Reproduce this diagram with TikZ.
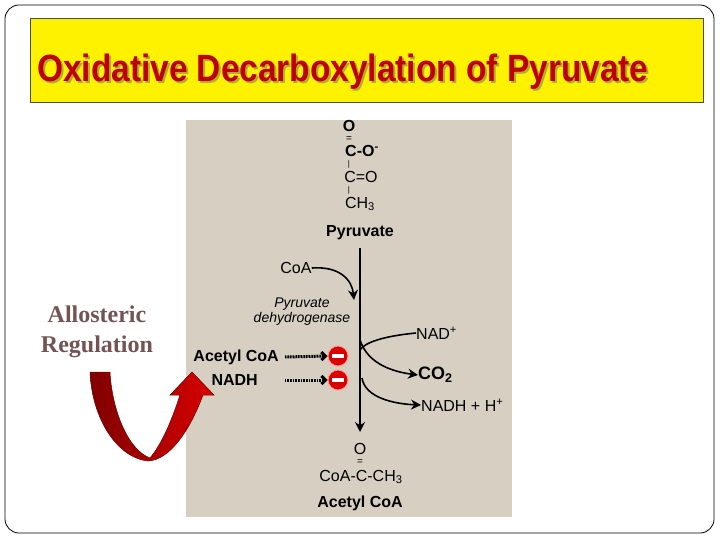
\documentclass[tikz,border=0pt]{standalone}
\usepackage{fontspec}
\setmainfont{Liberation Serif}
\newfontfamily\hv{Liberation Sans}
\usetikzlibrary{arrows.meta}
\definecolor{beige}{HTML}{D8CFC3}
\definecolor{ttl}{HTML}{C00000}
\definecolor{allo}{HTML}{735353}
\tikzset{lbl/.style={font=\hv\fontsize{16}{16}\selectfont,inner sep=0pt},
 blbl/.style={lbl,font=\hv\bfseries\fontsize{16}{16}\selectfont},
 rx/.style={black,line width=1.6pt,-{Stealth[length=10pt,width=10pt]}},
 inh/.style={line width=3pt,dash pattern=on 1pt off 0.6pt,-{Straight Barb[length=4pt,width=8pt]}},
 minus/.style={circle,fill=red!85!black,draw=red!40,line width=1pt,minimum size=20pt,inner sep=0pt}}
\begin{document}
\begin{tikzpicture}[x=1pt,y=-1pt]
\useasboundingbox (0,0) rectangle (720,540);
\fill[white] (0,0) rectangle (720,540);
\draw[line width=0.8pt,rounded corners=14pt] (5,5) rectangle (714,533);
\node[draw=black!70,fill=yellow,line width=0.8pt,minimum width=673pt,minimum height=84pt,inner sep=0pt] (tbox) at (366.5,60) {};
\node[anchor=west,text=black!60,font=\hv\bfseries\fontsize{38}{38}\selectfont,xscale=0.88,inner sep=0pt,opacity=0.5] (shadow) at (39,74) {Oxidative Decarboxylation of Pyruvate};
\node[anchor=west,text=ttl,font=\hv\bfseries\fontsize{38}{38}\selectfont,xscale=0.88,inner sep=0pt] (title) at (37,72) {Oxidative Decarboxylation of Pyruvate};
\fill[beige] (186,120) rectangle (512,517);
% pyruvate
\node[blbl] (o1) at (349,126) {O};
\node[lbl,font=\hv\fontsize{10}{10}\selectfont] (eq1) at (349,139) {=};
\node[blbl] (c1) at (362,151) {C-O\textsuperscript{-}};
\node[lbl,font=\hv\fontsize{8}{8}\selectfont] (b1) at (349,164) {|};
\node[lbl] (c2) at (361,177) {C=O};
\node[lbl,font=\hv\fontsize{8}{8}\selectfont] (b2) at (349,190) {|};
\node[lbl] (ch3) at (360,204) {CH\textsubscript{3}};
\node[blbl] (pyr) at (360,233) {Pyruvate};
\coordinate (top) at (360,248);
\coordinate (bot) at (360,432);
\draw[rx] (top) -- (bot);
\node[lbl] (coa) at (296,268) {CoA};
\coordinate (coaend) at (354,300);
\draw[rx] (coa.east) .. controls (340,266) and (352,280) .. (coaend);
\node[lbl,font=\hv\itshape\fontsize{14}{14}\selectfont,align=center] (pdh) at (302,312) {Pyruvate\\[1pt]dehydrogenase};
\node[lbl,anchor=west] (nad) at (416,333) {NAD\textsuperscript{+}};
\coordinate (mid) at (360,350);
\draw[line width=1.6pt] (nad.west) .. controls (385,336) and (365,342) .. (mid);
\node[blbl,anchor=west,font=\hv\bfseries\fontsize{18}{18}\selectfont] (co2) at (418,375) {CO\textsubscript{2}};
\coordinate (m0) at (360,340);
\draw[rx] (m0) .. controls (368,365) and (395,372) .. (co2.west);
\node[lbl,anchor=west] (nadh) at (421,405) {NADH + H\textsuperscript{+}};
\coordinate (m2) at (362,378);
\draw[rx] (m2) .. controls (365,398) and (395,404) .. (nadh.west);
\node[blbl,anchor=east] (acoa) at (279,357) {Acetyl CoA};
\node[blbl,anchor=east] (nadhi) at (258,380) {NADH};
\node[minus] (m1) at (338,356) {};
\node[minus] (mm2) at (338,380) {};
\foreach \m in {m1,mm2}{\fill[white] ([xshift=-6pt,yshift=-1.6pt]\m.center) rectangle ([xshift=6pt,yshift=1.6pt]\m.center);}
\draw[inh] (285,357) -- (m1.west);
\draw[inh] (285,380) -- (mm2.west);
% acetyl coa
\node[lbl] (o2) at (360,449) {O};
\node[lbl,font=\hv\fontsize{10}{10}\selectfont] (eq2) at (360,462) {=};
\node[lbl] (acs) at (361,477) {CoA-C-CH\textsubscript{3}};
\node[blbl] (aco) at (360,503) {Acetyl CoA};
% allosteric
\node[text=allo,font=\bfseries\fontsize{24}{24}\selectfont,align=center,inner sep=0pt] (allo) at (97,332) {Allosteric\\[6pt]Regulation};
\shade[left color=red!50!black,right color=red!85!black,draw=red!40!black,line width=0.5pt]
 (90,372) -- (110,372) .. controls (112,410) and (128,450) .. (150,458)
 .. controls (165,440) and (175,410) .. (180,395) -- (170,395) -- (192,372) -- (214,395) -- (203,395)
 .. controls (190,430) and (170,460) .. (148,461)
 .. controls (118,458) and (92,420) .. cycle;
\end{tikzpicture}
\end{document}
